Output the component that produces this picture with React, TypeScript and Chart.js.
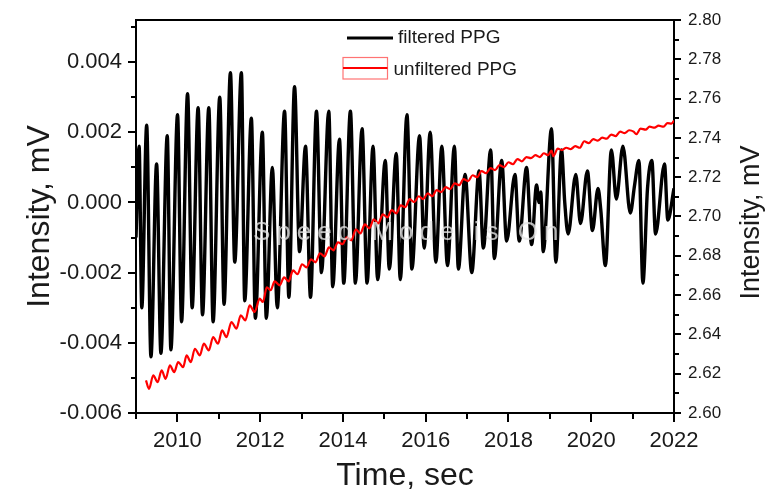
import React, { useEffect, useRef } from "react";
import { Chart, registerables } from "chart.js";

Chart.register(...registerables);

// ---------- data ----------
const filteredTime = [
  2009.0, 2009.075, 2009.14, 2009.258, 2009.361, 2009.498, 2009.602, 2009.755, 2009.843,
  2010.004, 2010.101, 2010.246, 2010.357, 2010.501, 2010.607, 2010.759, 2010.863,
  2011.024, 2011.128, 2011.282, 2011.386, 2011.547, 2011.627, 2011.788, 2011.884,
  2012.053, 2012.149, 2012.294, 2012.414, 2012.59, 2012.694, 2012.831, 2012.952,
  2013.096, 2013.217, 2013.361, 2013.482, 2013.658, 2013.754, 2013.916,
  2014.02, 2014.181, 2014.301, 2014.463, 2014.583, 2014.728, 2014.839,
  2015.024, 2015.12, 2015.289, 2015.386, 2015.547, 2015.667, 2015.851, 2015.964,
  2016.108, 2016.246, 2016.39, 2016.526, 2016.694, 2016.79, 2016.952,
  2017.113, 2017.289, 2017.393, 2017.571, 2017.658, 2017.836, 2017.956,
  2018.157, 2018.26, 2018.438, 2018.559, 2018.68, 2018.74, 2018.78, 2018.84,
  2019.04, 2019.145, 2019.282, 2019.36, 2019.441, 2019.627, 2019.74, 2019.908,
  2020.029, 2020.164, 2020.23, 2020.342, 2020.487, 2020.607, 2020.766, 2020.944,
  2021.048, 2021.152, 2021.249, 2021.36, 2021.465, 2021.554, 2021.77, 2021.851, 2022.0,
];
const filteredPPG = [
  -0.001, 0.0016, -0.003, 0.0022, -0.0044, 0.0011, -0.0043, 0.0019, -0.0042,
  0.0025, -0.0034, 0.0031, -0.003, 0.0027, -0.0032, 0.0027, -0.0034,
  0.003, -0.0029, 0.0037, -0.0017, 0.0037, -0.0028, 0.0024, -0.0033,
  0.002, -0.0033, 0.001, -0.003, 0.0026, -0.0027, 0.0033, -0.0014,
  0.0016, -0.0027, 0.0026, -0.002, 0.0026, -0.0024, 0.0018,
  -0.0023, 0.0026, -0.0023, 0.0021, -0.0023, 0.0016, -0.0022,
  0.0012, -0.0019, 0.0014, -0.0022, 0.0025, -0.0019, 0.0019, -0.0013,
  0.002, -0.0017, 0.0016, -0.0018, 0.0016, -0.0019, 0.0008,
  -0.002, 0.0009, -0.0013, 0.0015, -0.0016, 0.0012, -0.0011,
  0.0008, -0.0011, 0.001, -0.0012, 0.0005, 0.0, 0.0003, -0.0014,
  0.0021, -0.0017, 0.0015, 0.0, -0.0009, 0.0008, -0.0006, 0.0009,
  -0.0008, 0.0004, -0.0002, -0.0018, 0.0015, 0.0001, 0.0016, -0.0003,
  0.0005, 0.0012, -0.0023, 0.0004, 0.0012, -0.0009, 0.0011, -0.0005, 0.0004,
];

const unfilteredTime = [
  2009.241, 2009.313, 2009.417, 2009.523, 2009.619, 2009.716, 2009.819, 2009.923,
  2010.019, 2010.14, 2010.222, 2010.325, 2010.422, 2010.542, 2010.639, 2010.759,
  2010.863, 2010.983, 2011.08, 2011.186, 2011.306, 2011.427, 2011.53, 2011.643,
  2011.747, 2011.867, 2011.988, 2012.067, 2012.16, 2012.255, 2012.349, 2012.47,
  2012.578, 2012.687, 2012.795, 2012.904, 2013.012, 2013.12, 2013.229, 2013.337,
  2013.446, 2013.554, 2013.663, 2013.771, 2013.88, 2013.988, 2014.096, 2014.205,
  2014.313, 2014.422, 2014.53, 2014.639, 2014.747, 2014.855, 2014.964, 2015.072,
  2015.181, 2015.289, 2015.398, 2015.506, 2015.614, 2015.723, 2015.831, 2015.94,
  2016.048, 2016.157, 2016.265, 2016.373, 2016.482, 2016.59, 2016.699, 2016.807,
  2016.916, 2017.024, 2017.133, 2017.241, 2017.349, 2017.458, 2017.566, 2017.675,
  2017.783, 2017.892, 2018.0, 2018.108, 2018.217, 2018.325, 2018.434, 2018.542,
  2018.651, 2018.759, 2018.855, 2018.952, 2019.041, 2019.084, 2019.193, 2019.289,
  2019.398, 2019.506, 2019.614, 2019.723, 2019.831, 2019.94, 2020.048, 2020.157,
  2020.265, 2020.373, 2020.482, 2020.59, 2020.699, 2020.807, 2020.916, 2021.024,
  2021.089, 2021.193, 2021.313, 2021.41, 2021.53, 2021.627, 2021.747, 2021.843,
  2021.94, 2022.0,
];
const unfilteredPPG = [
  2.6166, 2.6123, 2.6191, 2.6157, 2.6217, 2.6174, 2.6242, 2.6208,
  2.6259, 2.6233, 2.6293, 2.6259, 2.6327, 2.6293, 2.6353, 2.6318,
  2.6386, 2.6353, 2.642, 2.6386, 2.6463, 2.6429, 2.6497, 2.6471,
  2.6548, 2.6514, 2.6582, 2.6565, 2.664, 2.6625, 2.667, 2.665,
  2.669, 2.667, 2.6726, 2.6706, 2.6757, 2.6741, 2.6782, 2.6767,
  2.6813, 2.6797, 2.6843, 2.6828, 2.6869, 2.6859, 2.6894, 2.6879,
  2.6935, 2.6914, 2.696, 2.694, 2.6986, 2.6965, 2.7011, 2.6996,
  2.7032, 2.7016, 2.7057, 2.7047, 2.7088, 2.7073, 2.7103, 2.7088,
  2.7118, 2.7103, 2.7134, 2.7124, 2.7149, 2.7139, 2.7169, 2.7159,
  2.719, 2.718, 2.721, 2.72, 2.7231, 2.722, 2.7246, 2.7236,
  2.7261, 2.7251, 2.7276, 2.7266, 2.7292, 2.7281, 2.7302, 2.7297,
  2.7312, 2.7302, 2.7322, 2.7312, 2.7335, 2.7307, 2.7345, 2.7338,
  2.735, 2.7343, 2.7358, 2.735, 2.7383, 2.7373, 2.7394, 2.7386,
  2.7401, 2.7396, 2.7417, 2.7409, 2.7432, 2.7424, 2.7439, 2.7432,
  2.7419, 2.7447, 2.7442, 2.7457, 2.7452, 2.7462, 2.7457, 2.7475,
  2.7473, 2.7488,
];

const xMajorTicks = [2010, 2012, 2014, 2016, 2018, 2020, 2022];
const xMinorTicks = [2009, 2011, 2013, 2015, 2017, 2019, 2021];
const leftMajorTicks = [-0.006, -0.004, -0.002, 0, 0.002, 0.004];
const leftMinorTicks = [-0.005, -0.003, -0.001, 0.001, 0.003, 0.005];
const rightMajorTicks = [2.6, 2.62, 2.64, 2.66, 2.68, 2.7, 2.72, 2.74, 2.76, 2.78, 2.8];
const rightMinorTicks = [2.61, 2.63, 2.65, 2.67, 2.69, 2.71, 2.73, 2.75, 2.77, 2.79];

const seriesLabels = ["filtered PPG", "unfiltered PPG"];
const xTitle = "Time, sec";
const yTitle = "Intensity, mV";
const watermark = "Speed Mode is On";

const FONT = '"Liberation Sans", Arial, sans-serif';
const TEXT = "#1a1a1a";

const extrasPlugin = {
  id: "extras",
  afterDatasetsDraw(chart: any) {
    const { ctx, chartArea } = chart;
    ctx.save();
    ctx.font = `26px ${FONT}`;
    (ctx as any).letterSpacing = "6px";
    ctx.fillStyle = "rgba(228,228,228,0.8)";
    ctx.textBaseline = "middle";
    ctx.textAlign = "left";
    ctx.fillText(watermark, chartArea.left + 117, 233);
    ctx.restore();
  },
  afterDraw(chart: any) {
    const { ctx, chartArea, scales } = chart;
    const xs = scales.x, yl = scales.y, yr = scales.y1;
    ctx.save();
    ctx.strokeStyle = "#000";
    ctx.lineWidth = 2;
    // top frame
    ctx.beginPath();
    ctx.moveTo(chartArea.left - 1, chartArea.top);
    ctx.lineTo(chartArea.right + 1, chartArea.top);
    ctx.stroke();
    // minor ticks
    ctx.beginPath();
    xMinorTicks.forEach((v) => {
      const p = Math.round(xs.getPixelForValue(v));
      ctx.moveTo(p, chartArea.bottom);
      ctx.lineTo(p, chartArea.bottom + 6);
    });
    leftMinorTicks.forEach((v) => {
      const p = Math.round(yl.getPixelForValue(v));
      ctx.moveTo(chartArea.left, p);
      ctx.lineTo(chartArea.left - 5, p);
    });
    rightMinorTicks.forEach((v) => {
      const p = Math.round(yr.getPixelForValue(v));
      ctx.moveTo(chartArea.right, p);
      ctx.lineTo(chartArea.right + 5, p);
    });
    ctx.stroke();

    // right axis title
    ctx.save();
    ctx.translate(759, (chartArea.top + chartArea.bottom) / 2 + 6);
    ctx.rotate(-Math.PI / 2);
    ctx.font = `27px ${FONT}`;
    ctx.fillStyle = TEXT;
    ctx.textAlign = "center";
    ctx.textBaseline = "alphabetic";
    ctx.fillText(yTitle, 0, 0);
    ctx.restore();

    // legend
    const lx = chartArea.left;
    const ds = chart.data.datasets;
    ctx.font = `19px ${FONT}`;
    ctx.fillStyle = TEXT;
    ctx.textAlign = "left";
    ctx.textBaseline = "alphabetic";
    ctx.strokeStyle = ds[1].borderColor;
    ctx.lineWidth = 3;
    ctx.beginPath();
    ctx.moveTo(lx + 211, 38);
    ctx.lineTo(lx + 257, 38);
    ctx.stroke();
    ctx.fillText(ds[1].label, lx + 262, 43);

    ctx.strokeStyle = "rgba(255,0,0,0.55)";
    ctx.lineWidth = 1.2;
    ctx.strokeRect(lx + 207, 57.5, 44.5, 21.5);
    ctx.strokeStyle = ds[0].borderColor;
    ctx.lineWidth = 2;
    ctx.beginPath();
    ctx.moveTo(lx + 207, 68);
    ctx.lineTo(lx + 251.5, 68);
    ctx.stroke();
    ctx.fillText(ds[0].label, lx + 257.5, 74.5);
    ctx.restore();
  },
};

export default function App() {
  const ref = useRef<HTMLCanvasElement | null>(null);
  useEffect(() => {
    if (!ref.current) return;
    const chart = new Chart(ref.current, {
      type: "line",
      data: {
        datasets: [
          {
            label: seriesLabels[1],
            data: unfilteredTime.map((t, i) => ({ x: t, y: unfilteredPPG[i] })),
            borderColor: "#ff0000",
            borderWidth: 2.2,
            pointRadius: 0,
            cubicInterpolationMode: "monotone",
            yAxisID: "y1",
            order: 0,
          },
          {
            label: seriesLabels[0],
            data: filteredTime.map((t, i) => ({ x: t, y: filteredPPG[i] })),
            borderColor: "#000000",
            borderWidth: 3.4,
            pointRadius: 0,
            cubicInterpolationMode: "monotone",
            borderJoinStyle: "round",
            yAxisID: "y",
            order: 1,
          },
        ],
      },
      options: {
        animation: false,
        responsive: false,
        devicePixelRatio: 1,
        layout: { padding: { top: 20, left: 0, right: 0, bottom: 0 } },
        plugins: { legend: { display: false }, tooltip: { enabled: false } },
        scales: {
          x: {
            type: "linear",
            position: "bottom",
            min: 2009,
            max: 2022,
            afterBuildTicks: (s: any) => {
              s.ticks = xMajorTicks.map((v) => ({ value: v }));
            },
            afterFit: (s: any) => {
              s.height = 81;
            },
            ticks: {
              autoSkip: false,
              maxRotation: 0,
              padding: 6,
              color: TEXT,
              font: { family: FONT, size: 22 },
              callback: (v: any) => String(v),
            },
            grid: { display: true, drawOnChartArea: false, drawTicks: true, tickLength: 9, color: "#000", lineWidth: 2 },
            border: { display: true, color: "#000", width: 2 },
            title: { display: true, text: xTitle, color: TEXT, font: { family: FONT, size: 32, lineHeight: 1 }, padding: { top: 0, bottom: 2 } },
          },
          y: {
            type: "linear",
            position: "left",
            min: -0.006,
            max: 0.0052,
            afterBuildTicks: (s: any) => {
              s.ticks = leftMajorTicks.map((v) => ({ value: v }));
            },
            afterFit: (s: any) => {
              s.width = 136;
            },
            ticks: {
              padding: 6,
              color: TEXT,
              font: { family: FONT, size: 22 },
              callback: (v: any) => Number(v).toFixed(3),
            },
            grid: { display: true, drawOnChartArea: false, drawTicks: true, tickLength: 8, color: "#000", lineWidth: 2 },
            border: { display: true, color: "#000", width: 2 },
            title: { display: true, text: yTitle, color: TEXT, font: { family: FONT, size: 32, lineHeight: 1.2 }, padding: { top: 21, bottom: 0 } },
          },
          y1: {
            type: "linear",
            position: "right",
            min: 2.6,
            max: 2.8,
            afterBuildTicks: (s: any) => {
              s.ticks = rightMajorTicks.map((v) => ({ value: v }));
            },
            afterFit: (s: any) => {
              s.width = 93;
            },
            ticks: {
              padding: 7,
              color: TEXT,
              font: { family: FONT, size: 17 },
              callback: (v: any) => Number(v).toFixed(2),
            },
            grid: { display: true, drawOnChartArea: false, drawTicks: true, tickLength: 7, color: "#000", lineWidth: 2 },
            border: { display: true, color: "#000", width: 2 },
            title: { display: false },
          },
        },
      },
      plugins: [extrasPlugin],
    } as any);
    return () => chart.destroy();
  }, []);
  return (
    <div style={{ position: "fixed", left: 0, top: 0, width: 767, height: 494, background: "#fff" }}>
      <canvas ref={ref} width={767} height={494} style={{ width: 767, height: 494, display: "block" }} />
    </div>
  );
}
